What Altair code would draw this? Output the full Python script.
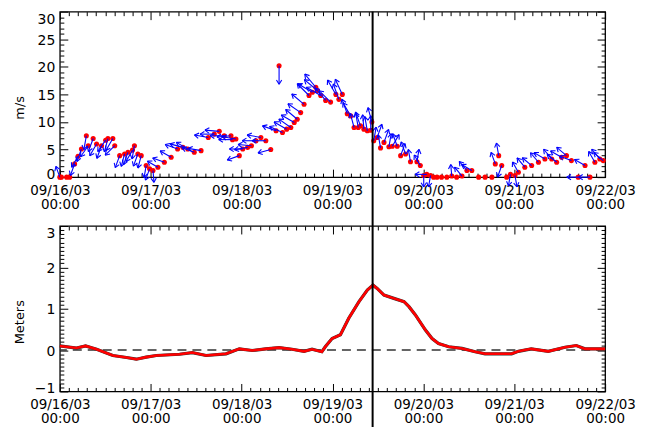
import altair as alt
import numpy as np
import pandas as pd

# ---------------- data ----------------
# wind: hours since 09/16/03 00:00, speed (m/s), direction arrow points to (deg clockwise from north; None = no arrow)
wind_hours = [0.0, 0.4, 1.8, 2.6, 3.9, 4.8, 5.7, 7.0, 7.5, 8.8, 9.7, 11.0, 12.1, 12.7, 14.0, 14.5,
              15.8, 17.1, 18.0, 19.2, 19.7, 20.6, 21.5, 22.8, 23.7, 24.6, 25.9, 27.6, 29.4, 31.1,
              32.5, 33.8, 35.5, 37.3, 39.2, 40.8, 42.1, 43.4, 45.2, 45.6, 46.5, 47.4, 48.3, 49.6,
              50.6, 51.8, 53.1, 54.4, 55.7, 57.1, 57.9, 58.8, 59.9, 61.0, 61.9, 62.7, 63.6, 64.5,
              65.8, 66.7, 67.6, 68.0, 68.9, 70.2, 71.5, 72.9, 73.7, 74.6, 75.9, 76.8, 77.7, 78.8,
              79.4, 80.3, 81.2, 82.1, 82.4, 82.9, 83.8, 84.7, 85.6, 86.9, 87.8, 89.1, 90.0, 91.3,
              92.6, 94.3, 95.2, 96.1, 96.9, 97.9, 98.7, 99.6, 100.8, 102.2, 103.5, 104.8, 106.2,
              107.5, 108.8, 110.6, 112.3, 114.1, 115.0, 115.9, 116.7, 118.0, 119.0, 120.2, 121.1,
              122.8, 124.6, 126.4, 128.1, 129.9, 131.2, 132.5, 133.8, 135.1, 136.9, 138.7, 140.0,
              141.3, 142.6, 143.5]
wind_speed = [0.0, 0.0, 0.0, 0.0, 2.4, 3.8, 5.1, 7.5, 5.7, 7.0, 6.0, 5.7, 6.7, 7.0, 7.0, 5.7,
              3.9, 4.2, 4.5, 4.9, 5.7, 4.2, 3.9, 2.1, 1.5, 1.2, 1.8, 2.7, 3.6, 5.1,
              5.4, 5.1, 4.5, 4.8, 7.2, 7.8, 8.3, 7.5, 7.5, 6.8, 6.9, 3.9, 5.1, 5.4,
              5.7, 6.6, 7.2, 6.6, 5.0, 8.4, 20.2, 8.1, 8.7, 9.0, 9.9, 10.5, 11.7, 13.2,
              14.8, 15.4, 16.3, 15.7, 14.8, 13.9, 13.6, 15.0, 14.1, 15.0, 11.5, 11.1, 9.0, 9.0,
              9.3, 8.7, 8.4, 8.5, 10.0, 6.6, 7.2, 5.3, 6.3, 5.5, 5.6, 5.6, 3.9, 4.2,
              2.8, 2.8, 2.1, 0.3, 0.5, 0.3, 0.0, 0.0, 0.0, 0.0, 0.2, 0.0, 0.2,
              1.2, 1.2, 0.0, 0.0, 0.0, 2.4, 3.9, 2.1, 0.0, 0.5, 0.3, 0.9,
              1.8, 2.1, 2.7, 3.3, 3.3, 2.7, 3.6, 3.9, 3.0, 0.0, 2.1, 0.0,
              2.7, 3.3, 3.0]
wind_dir = [340, None, None, None, 200, 210, 200, 190, 215, 200, 210, 200, 215, 195, 210, 225,
            200, 195, 200, 210, 190, 200, 195, 190, 200, 175, 300, 290, 300, 290,
            285, 300, 290, 280, 280, 270, 275, 270, 265, 270, 280, 250, 270, 260,
            275, 270, 280, 270, 255, 290, 180, 295, 300, 305, 300, 310, 305, 310,
            315, 300, 320, 310, 300, 320, 315, 330, 340, 335, 340, 330, 345, 350,
            340, 355, 350, 0, 345, 10, 20, 350, 20, 10, 30, 340, 20, 340,
            350, 10, 330, 180, 270, 190, None, None, None, None, 355, None, 320,
            320, 300, None, None, None, 340, 350, 200, None, 190, 170, 330,
            320, 310, 320, 300, 320, 310, 300, 310, 290, 270, 300, 270,
            330, 320, 310]

# surge: hours since 09/16/03 00:00, water level anomaly (m)
surge_hours = [0.0, 4.4, 6.8, 9.7, 14.0, 17.6, 20.2, 22.8, 25.5, 31.6, 35.0, 38.6, 43.9, 47.4,
               50.8, 54.4, 57.9, 61.3, 64.5, 66.6, 69.2, 70.1, 71.9, 74.1, 76.3, 79.0, 81.2,
               82.7, 83.8, 85.6, 88.2, 90.9, 92.2, 93.9, 96.5, 98.3, 100.0, 102.7, 106.2, 109.7,
               112.3, 119.3, 121.1, 124.5, 129.0, 133.4, 136.4, 138.7, 144.0]
surge_m = [0.10, 0.05, 0.10, 0.02, -0.13, -0.18, -0.22, -0.17, -0.13, -0.10, -0.06, -0.13, -0.09, 0.03,
           -0.01, 0.03, 0.06, 0.02, -0.03, 0.02, -0.04, 0.08, 0.28, 0.37, 0.77, 1.17, 1.45,
           1.57, 1.49, 1.33, 1.25, 1.17, 1.05, 0.85, 0.49, 0.28, 0.16, 0.08, 0.04, -0.04,
           -0.09, -0.09, -0.03, 0.03, -0.03, 0.07, 0.11, 0.03, 0.03]

marker_hour = [82.6]

x_major = [0, 24, 48, 72, 96, 120, 144]
x_minor = [round(i * 2.4, 4) for i in range(61)]
speed_major = [0, 5, 10, 15, 20, 25, 30]
speed_minor = list(range(31))
surge_major = [-1, 0, 1, 2, 3]
surge_minor = [round(-1 + 0.1 * i, 2) for i in range(41)]

# ---------------- layout / style ----------------
W, H = 547, 166
GAP = 49
FONT = "DejaVu Sans"
px_per_hour = W / 144.0
px_per_ms = H / 30.0

dots_df = pd.DataFrame({"t": wind_hours, "s": wind_speed})

shafts, heads = [], []
for t, s, d in zip(wind_hours, wind_speed, wind_dir):
    if d is None:
        continue
    L = 11.5 + 0.35 * s
    th = np.radians(d)
    tx = t + L * np.sin(th) / px_per_hour
    ty = s + L * np.cos(th) / px_per_ms
    shafts.append({"x": t, "y": s, "x2": tx, "y2": ty})
    for side in (-1, 1):
        b = th + np.pi + side * np.radians(32)
        heads.append({"x": tx, "y": ty,
                      "x2": tx + 5 * np.sin(b) / px_per_hour,
                      "y2": ty + 5 * np.cos(b) / px_per_ms})
shaft_df = pd.DataFrame(shafts)
head_df = pd.DataFrame(heads)
surge_df = pd.DataFrame({"t": surge_hours, "m": surge_m})
vline_df = pd.DataFrame({"t": marker_hour})
zero_df = pd.DataFrame({"z": [0.0]})

xs = alt.Scale(domain=[0, 144], nice=False, zero=False)
ys_top = alt.Scale(domain=[0, 30], nice=False, zero=False)
ys_bot = alt.Scale(domain=[-1, 3], nice=False, zero=False)

X_TEST = "abs(datum.value / 24 - round(datum.value / 24)) < 0.01"


def tick_axis(orient, offset, values, test):
    return alt.Axis(orient=orient, offset=offset, values=values, labels=False, domain=False,
                    grid=False, title=None, tickColor="black", tickWidth=1,
                    tickSize={"condition": {"test": test, "value": 8}, "value": 4})


def label_x_axis():
    return alt.Axis(orient="bottom", values=x_major, ticks=False, domain=False, grid=False,
                    labelExpr="['09/' + (16 + round(datum.value / 24)) + '/03', '00:00']",
                    labelFont=FONT, labelFontSize=13.5, labelColor="black", labelPadding=6,
                    labelLineHeight=14, labelAngle=0, labelFlush=False, labelOverlap=False,
                    labelBound=False, title=None)


def label_y_axis(values, top_value, bottom_value, title):
    return alt.Axis(orient="left", values=values, ticks=False, domain=False, grid=False,
                    labelFont=FONT, labelFontSize=14, labelColor="black", labelPadding=5,
                    labelBaseline={"condition": [
                        {"test": f"datum.value >= {top_value}", "value": "top"},
                        {"test": f"datum.value <= {bottom_value}", "value": "alphabetic"}],
                        "value": "middle"},
                    labelOffset=1, labelFlush=False, labelOverlap=False,
                    title=title, titleFont=FONT, titleFontSize=13, titleFontWeight="normal",
                    titleColor="black", titleX=-40, titleY=H / 2 + 13, titleAngle=-90,
                    titleAlign="center", titleBaseline="middle")


# ---------------- top panel ----------------
t_dots = alt.Chart(dots_df).mark_circle(color="#ff0000", size=26, opacity=1).encode(
    x=alt.X("t:Q", scale=xs, axis=label_x_axis()),
    y=alt.Y("s:Q", scale=ys_top, axis=label_y_axis(speed_major, 30, 0, "m/s")),
)
t_shafts = alt.Chart(shaft_df).mark_rule(color="#0000ff", strokeWidth=1.1).encode(
    x=alt.X("x:Q", scale=xs, axis=tick_axis("top", -H, x_minor, X_TEST)),
    y=alt.Y("y:Q", scale=ys_top, axis=tick_axis("right", -W, speed_minor, "datum.value % 5 === 0")),
    x2="x2:Q", y2="y2:Q",
)
t_heads = alt.Chart(head_df).mark_rule(color="#0000ff", strokeWidth=1.1).encode(
    x=alt.X("x:Q", scale=xs, axis=tick_axis("bottom", -H, x_minor, X_TEST)),
    y=alt.Y("y:Q", scale=ys_top, axis=tick_axis("left", -W, speed_minor, "datum.value % 5 === 0")),
    x2="x2:Q", y2="y2:Q",
)
t_vline = alt.Chart(vline_df).mark_rule(color="black", strokeWidth=2).encode(
    x=alt.X("t:Q", scale=xs, axis=None),
    y=alt.value(0), y2=alt.value(H + GAP),
)
top = alt.layer(t_dots, t_shafts, t_heads, t_vline).resolve_axis(
    x="independent", y="independent").properties(width=W, height=H)

# ---------------- bottom panel ----------------
S_TEST = "abs(datum.value - round(datum.value)) < 0.01"
b_black = alt.Chart(surge_df).mark_line(color="#303030", strokeWidth=3.2).encode(
    x=alt.X("t:Q", scale=xs, axis=tick_axis("top", -H, x_minor, X_TEST)),
    y=alt.Y("m:Q", scale=ys_bot, axis=tick_axis("right", -W, surge_minor, S_TEST)),
)
b_red = alt.Chart(surge_df).mark_line(color="#ff0000", strokeWidth=2.6).encode(
    x=alt.X("t:Q", scale=xs, axis=label_x_axis()),
    y=alt.Y("m:Q", scale=ys_bot, axis=label_y_axis(surge_major, 3, -1, "Meters")),
)
b_zero = alt.Chart(zero_df).mark_rule(color="#333333", strokeWidth=1.5, strokeDash=[9, 6]).encode(
    y=alt.Y("z:Q", scale=ys_bot, axis=tick_axis("left", -W, surge_minor, S_TEST)),
)
b_vline = alt.Chart(vline_df).mark_rule(color="black", strokeWidth=2).encode(
    x=alt.X("t:Q", scale=xs, axis=tick_axis("bottom", -H, x_minor, X_TEST)),
    y=alt.value(0), y2=alt.value(H + 40),
)
bottom = alt.layer(b_zero, b_black, b_red, b_vline).resolve_axis(
    x="independent", y="independent").properties(width=W, height=H)

chart = alt.vconcat(top, bottom, spacing=GAP, bounds="flush").properties(
    padding={"left": 5, "top": 1, "right": 5, "bottom": 0},
    background="white",
).configure_view(stroke="black", strokeWidth=1.3)

chart.save("out.html", embed_options={"renderer": "svg", "actions": False})
